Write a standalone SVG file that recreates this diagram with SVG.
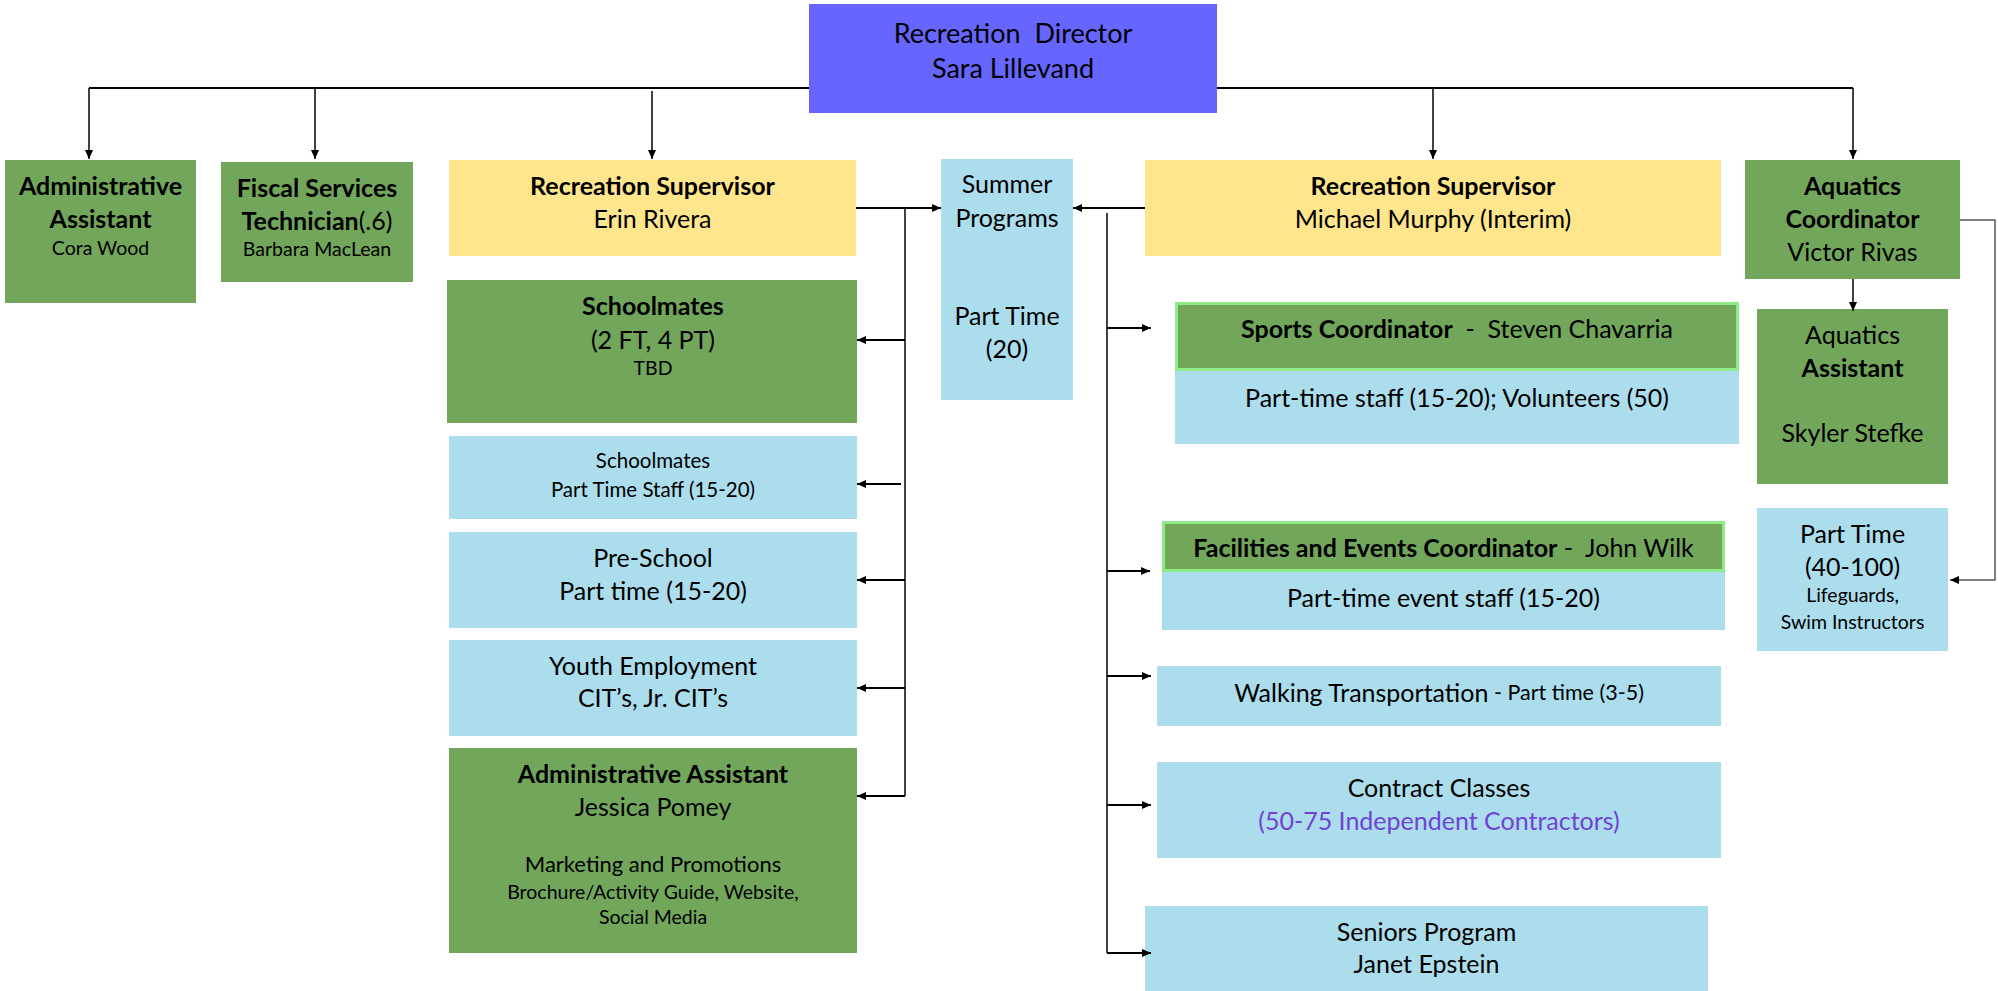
<svg xmlns="http://www.w3.org/2000/svg" width="1998" height="991" viewBox="0 0 1998 991">
<style>
text{font-family:Lato,"Liberation Sans",sans-serif;fill:#000;text-anchor:middle;dominant-baseline:central;font-size:25px}
.b{font-weight:bold}
.s{font-size:19.5px}
.m{font-size:20.5px}
.d{font-size:27px}
.g{fill:#72A65B}
.y{fill:#FFE68C}
.bl{fill:#ABDDED}
.dir{fill:#6666FF}
.hl{fill:#72A65B;stroke:#8FEA88;stroke-width:3}
.c{fill:none;stroke:#000;stroke-width:1.5}
.ch{fill:none;stroke:#000;stroke-width:2.2}
.pur{fill:#7042D8}
</style>
<defs>
<marker id="ar" markerUnits="userSpaceOnUse" markerWidth="10" markerHeight="8" refX="9" refY="4" orient="auto">
<path d="M0,0 L9,4 L0,8 z" fill="#000"/>
</marker>
</defs>

<g id="director">
<rect class="dir" x="809" y="4" width="408" height="109"/>
<text class="d" x="1013" y="32" xml:space="preserve">Recreation  Director</text>
<text class="d" x="1013" y="67">Sara Lillevand</text>
</g>

<g id="admin-assistant">
<rect class="g" x="5" y="160" width="191" height="143"/>
<text class="b" x="100.5" y="185">Administrative</text>
<text class="b" x="100.5" y="218">Assistant</text>
<text class="s" x="100.5" y="247">Cora Wood</text>
</g>

<g id="fiscal">
<rect class="g" x="221" y="162" width="192" height="120"/>
<text class="b" x="317" y="187">Fiscal Services</text>
<text x="317" y="220"><tspan class="b">Technician</tspan>(.6)</text>
<text class="s" x="317" y="248">Barbara MacLean</text>
</g>

<g id="rec-sup-erin">
<rect class="y" x="449" y="160" width="407" height="96"/>
<text class="b" x="652.5" y="185">Recreation Supervisor</text>
<text x="652.5" y="218">Erin Rivera</text>
</g>

<g id="summer">
<rect class="bl" x="941" y="159" width="132" height="241"/>
<text x="1007" y="183">Summer</text>
<text x="1007" y="217">Programs</text>
<text x="1007" y="315">Part Time</text>
<text x="1007" y="348">(20)</text>
</g>

<g id="rec-sup-michael">
<rect class="y" x="1145" y="160" width="576" height="96"/>
<text class="b" x="1433" y="185">Recreation Supervisor</text>
<text x="1433" y="218">Michael Murphy (Interim)</text>
</g>

<g id="aquatics-coord">
<rect class="g" x="1745" y="160" width="215" height="119"/>
<text class="b" x="1852.5" y="185">Aquatics</text>
<text class="b" x="1852.5" y="218">Coordinator</text>
<text x="1852.5" y="251">Victor Rivas</text>
</g>

<g id="schoolmates">
<rect class="g" x="447" y="280" width="410" height="143"/>
<text class="b" x="653" y="305">Schoolmates</text>
<text x="653" y="339">(2 FT, 4 PT)</text>
<text class="s" x="653" y="367">TBD</text>
</g>

<g id="schoolmates-pt">
<rect class="bl" x="449" y="436" width="408" height="83"/>
<text class="m" x="653" y="460">Schoolmates</text>
<text class="m" x="653" y="489">Part Time Staff (15-20)</text>
</g>

<g id="preschool">
<rect class="bl" x="449" y="532" width="408" height="96"/>
<text x="653" y="557">Pre-School</text>
<text x="653" y="590">Part time (15-20)</text>
</g>

<g id="youth">
<rect class="bl" x="449" y="640" width="408" height="96"/>
<text x="653" y="665">Youth Employment</text>
<text x="653" y="697">CIT’s, Jr. CIT’s</text>
</g>

<g id="admin-jessica">
<rect class="g" x="449" y="748" width="408" height="205"/>
<text class="b" x="653" y="773">Administrative Assistant</text>
<text x="653" y="806">Jessica Pomey</text>
<text style="font-size:22px" x="653" y="863">Marketing and Promotions</text>
<text class="s" x="653" y="891">Brochure/Activity Guide, Website,</text>
<text class="s" x="653" y="916">Social Media</text>
</g>

<g id="sports">
<rect class="bl" x="1175" y="370" width="564" height="74"/>
<rect class="hl" x="1176.5" y="303.5" width="561" height="66"/>
<text x="1457" y="328" xml:space="preserve"><tspan class="b">Sports Coordinator</tspan>  -  Steven Chavarria</text>
<text x="1457" y="397">Part-time staff (15-20); Volunteers (50)</text>
</g>

<g id="facilities">
<rect class="bl" x="1162" y="571" width="563" height="59"/>
<rect class="hl" x="1163.5" y="522.5" width="560" height="48"/>
<text x="1443.5" y="547" xml:space="preserve"><tspan class="b">Facilities and Events Coordinator</tspan> -  John Wilk</text>
<text x="1443.5" y="597">Part-time event staff (15-20)</text>
</g>

<g id="walking">
<rect class="bl" x="1157" y="666" width="564" height="60"/>
<text x="1439" y="692">Walking Transportation<tspan style="font-size:21.5px"> - Part time (3-5)</tspan></text>
</g>

<g id="contract">
<rect class="bl" x="1157" y="762" width="564" height="96"/>
<text x="1439" y="787">Contract Classes</text>
<text class="pur" x="1439" y="820">(50-75 Independent Contractors)</text>
</g>

<g id="seniors">
<rect class="bl" x="1145" y="906" width="563" height="85"/>
<text x="1426.5" y="931">Seniors Program</text>
<text x="1426.5" y="963">Janet Epstein</text>
</g>

<g id="aquatics-assistant">
<rect class="g" x="1757" y="309" width="191" height="175"/>
<text x="1852.5" y="334">Aquatics</text>
<text class="b" x="1852.5" y="367">Assistant</text>
<text x="1852.5" y="432">Skyler Stefke</text>
</g>

<g id="aquatics-pt">
<rect class="bl" x="1757" y="508" width="191" height="143"/>
<text x="1852.5" y="533">Part Time</text>
<text x="1852.5" y="566">(40-100)</text>
<text class="s" x="1852.5" y="594">Lifeguards,</text>
<text class="s" x="1852.5" y="621">Swim Instructors</text>
</g>

<g id="connectors">
<path class="ch" d="M89,88 H809 M1217,88 H1853"/>
<path class="c" d="M89,88 V159" marker-end="url(#ar)"/>
<path class="c" d="M315,88 V159" marker-end="url(#ar)"/>
<path class="c" d="M652,91 V159" marker-end="url(#ar)"/>
<path class="c" d="M1433,88 V159" marker-end="url(#ar)"/>
<path class="c" d="M1853,88 V159" marker-end="url(#ar)"/>
<path class="ch" d="M856,208 H941" marker-end="url(#ar)"/>
<path class="c" d="M905,208 V796"/>
<path class="ch" d="M905,340 H857" marker-end="url(#ar)"/>
<path class="ch" d="M901,484 H857" marker-end="url(#ar)"/>
<path class="ch" d="M905,580 H857" marker-end="url(#ar)"/>
<path class="ch" d="M905,688 H857" marker-end="url(#ar)"/>
<path class="ch" d="M905,796 H857" marker-end="url(#ar)"/>
<path class="ch" d="M1145,208 H1073" marker-end="url(#ar)"/>
<path class="c" d="M1107,213 V953"/>
<path class="ch" d="M1107,328 H1151" marker-end="url(#ar)"/>
<path class="ch" d="M1107,571 H1150" marker-end="url(#ar)"/>
<path class="ch" d="M1107,676 H1151" marker-end="url(#ar)"/>
<path class="ch" d="M1107,805 H1151" marker-end="url(#ar)"/>
<path class="ch" d="M1107,953 H1151" marker-end="url(#ar)"/>
<path class="c" d="M1853,279 V311" marker-end="url(#ar)"/>
<path class="c" style="stroke:#555" d="M1960,220 H1995 V580 H1950" marker-end="url(#ar)"/>
</g>
</svg>
